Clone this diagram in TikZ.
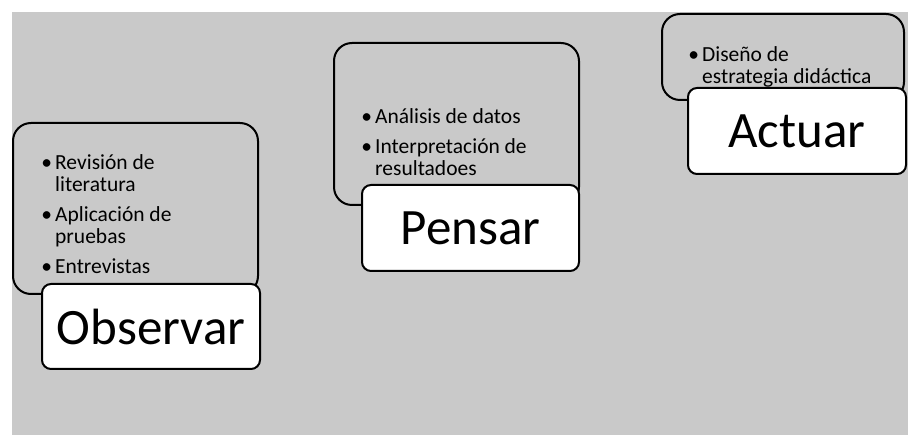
\documentclass[tikz,border=0pt]{standalone}
\usepackage{fontspec}
\setmainfont{Carlito}
\usepackage{tikz}
\definecolor{backgray}{RGB}{201,201,201}
\newcommand{\itembul}{\llap{\textbullet\kern3pt}}

\begin{document}
\begin{tikzpicture}[x=1pt,y=-1pt]
      \tikzstyle{stage} = [rectangle, draw, line width=2pt, rounded corners=18pt, anchor=north west, inner sep=0pt]
      \tikzstyle{tag} = [rectangle, draw, line width=2pt, rounded corners=9pt, fill=white, anchor=north west, font=\fontsize{51}{60}\selectfont]
      \tikzstyle{items} = [anchor=north west, inner sep=0pt, align=left, font=\fontsize{21.5}{22}\selectfont]
      \useasboundingbox (0,0) rectangle (908,435);
      \fill[backgray] (12,12) rectangle (908,435);
      % observar
      \node (obsbox) [stage, minimum width=245pt, minimum height=171pt] at (12,122) {};
      \node (obslist) [items] at (55,154) {\itembul Revisión de\\literatura\\[8pt]\itembul Aplicación de\\pruebas\\[8pt]\itembul Entrevistas};
      \node (obs) [tag, minimum width=218pt, minimum height=85pt] at (41,283) {Observar};
      % pensar
      \node (penbox) [stage, minimum width=245pt, minimum height=162pt] at (333,42) {};
      \node (penlist) [items] at (375,108) {\itembul Análisis de datos\\[8pt]\itembul Interpretación de\\resultadoes};
      \node (pen) [tag, minimum width=217pt, minimum height=86pt] at (361,184) {Pensar};
      % actuar
      \node (actbox) [stage, minimum width=242pt, minimum height=86pt] at (661,13) {};
      \node (actlist) [items] at (702,46) {\itembul Diseño de\\estrategia didáctica};
      \node (act) [tag, minimum width=218pt, minimum height=86pt] at (687,87) {Actuar};
\end{tikzpicture}
\end{document}
